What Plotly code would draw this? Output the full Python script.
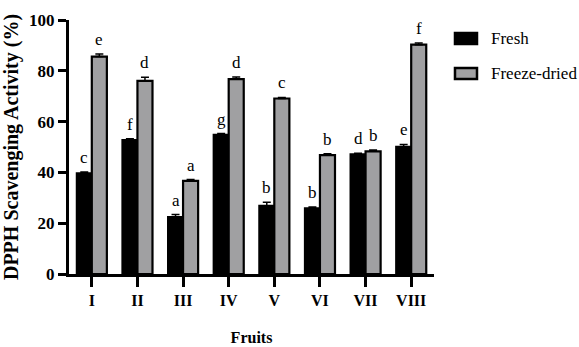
import plotly.graph_objects as go

fruits = ["I", "II", "III", "IV", "V", "VI", "VII", "VIII"]
fresh = [39.7, 52.8, 22.4, 54.8, 26.9, 25.9, 47.1, 50.1]
fresh_err = [0.5, 0.4, 1.0, 0.5, 1.3, 0.5, 0.4, 0.9]
freeze = [85.6, 76.0, 36.7, 76.7, 69.1, 46.8, 48.3, 90.3]
freeze_err = [1.0, 1.5, 0.5, 0.9, 0.4, 0.5, 0.5, 0.6]
fresh_letters = ["c", "f", "a", "g", "b", "b", "d", "e"]
freeze_letters = ["e", "d", "a", "d", "c", "b", "b", "f"]
series_names = ["Fresh", "Freeze-dried"]
series_colors = ["black", "#a0a0a2"]

FONT = "Liberation Serif, Times New Roman, Times, serif"
bargap = 0.34

fig = go.Figure()
fig.add_trace(go.Bar(
    x=fruits, y=fresh, name=series_names[0], showlegend=False,
    marker=dict(color=series_colors[0], line=dict(color="black", width=2)),
    error_y=dict(type="data", array=fresh_err, arrayminus=[0]*len(fresh_err),
                 color="black", thickness=1.5, width=4),
))
fig.add_trace(go.Bar(
    x=fruits, y=freeze, name=series_names[1], showlegend=False,
    marker=dict(color=series_colors[1], line=dict(color="black", width=2.2)),
    error_y=dict(type="data", array=freeze_err, arrayminus=[0]*len(freeze_err),
                 color="black", thickness=1.5, width=4),
))

off = (1 - bargap) / 4
for i in range(len(fruits)):
    for dx, vals, errs, labs in ((-off, fresh, fresh_err, fresh_letters),
                                 (off, freeze, freeze_err, freeze_letters)):
        fig.add_annotation(x=i + dx, y=vals[i] + errs[i], text=labs[i],
                           showarrow=False, yanchor="bottom", yshift=3,
                           font=dict(family=FONT, size=17, color="black"))

# legend (swatches + labels) placed to the right of the plot area
legend_rows = [(0.9055, 0.9488, 0.927), (0.7677, 0.811, 0.789)]
for (y0, y1, yt), name, col in zip(legend_rows, series_names, series_colors):
    fig.add_shape(type="rect", xref="paper", yref="paper",
                  x0=1.0575, x1=1.1178, y0=y0, y1=y1,
                  fillcolor=col, line=dict(color="black", width=2.5))
    fig.add_annotation(xref="paper", yref="paper", x=1.1507, y=yt,
                       xanchor="left", yanchor="middle", showarrow=False,
                       text=name, font=dict(family=FONT, size=17, color="black"))

fig.update_layout(
    width=579, height=347,
    margin=dict(l=69, r=145, t=20, b=73),
    paper_bgcolor="white", plot_bgcolor="white",
    barmode="group", bargap=bargap, bargroupgap=0,
    font=dict(family=FONT, color="black"),
    showlegend=False,
    xaxis=dict(
        range=[-0.5, 7.5], showline=True, linecolor="black", linewidth=3,
        ticks="outside", ticklen=10, tickwidth=2.5, tickcolor="black",
        tickfont=dict(family=FONT, size=16, color="black", weight="bold"),
        showgrid=False, zeroline=False, automargin=False,
        title=dict(text="<b>Fruits</b>", standoff=24,
                   font=dict(family=FONT, size=16, color="black")),
    ),
    yaxis=dict(
        range=[0, 100], tickvals=[0, 20, 40, 60, 80, 100],
        showline=True, linecolor="black", linewidth=3,
        ticks="outside", ticklen=8, tickwidth=2.5, tickcolor="black",
        tickfont=dict(family=FONT, size=17, color="black", weight="bold"),
        showgrid=False, zeroline=False, automargin=False,
        title=dict(text="<b>DPPH Scavenging Activity (%)</b>", standoff=8,
                   font=dict(family=FONT, size=20, color="black")),
    ),
)

fig.write_html("out.html", config={"displayModeBar": False},
               post_script="document.body.style.margin='0';")
